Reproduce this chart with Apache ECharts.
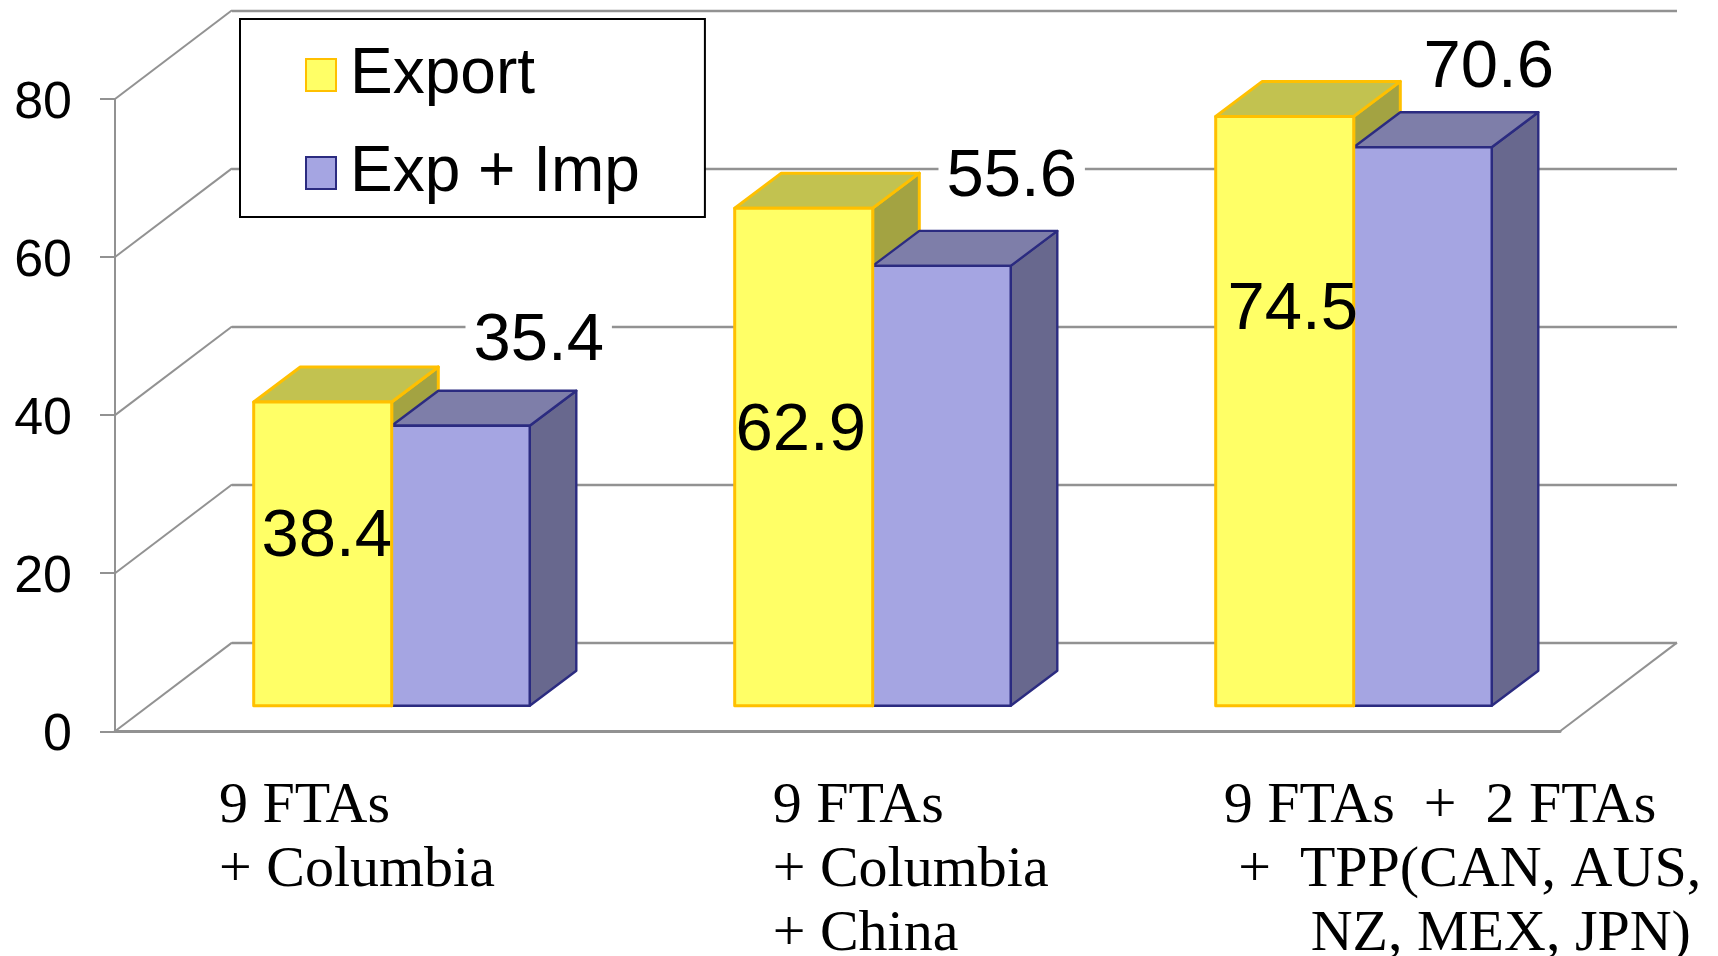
<!DOCTYPE html>
<html>
<head>
<meta charset="utf-8">
<style>html,body{margin:0;padding:0;background:#fff}#chart{width:1718px;height:956px}</style>
<script src="https://cdn.jsdelivr.net/npm/echarts@6/dist/echarts.min.js"></script>
</head>
<body>
<div id="chart"></div>
<script>
var categories = [
  '9 FTAs\n+ Columbia',
  '9 FTAs\n+ Columbia\n+ China',
  '9 FTAs  +  2 FTAs\n +  TPP(CAN, AUS,\n      NZ, MEX, JPN)'
];
var exportValues = [38.4, 62.9, 74.5];
var expImpValues = [35.4, 55.6, 70.6];
var yTicks = [0, 20, 40, 60, 80];

// label nudges from each bar's top-centre, in pixels (hand-placed in the reference)
var exportLabelNudge = [[4, 136], [-3, 223], [8, 194]];
var expImpLabelNudge = [[78, -84], [70, -88], [66, -79]];
var categoryLabelShift = [-172.7, -100, -130];

var BAR_RATIO = 138 / 481, BAR_DX = 46.6, BAR_DY = 35, WALL_DX = 117, WALL_DY = 88.7;
var GREY = '#929292';
var YEL = {front: '#FFFF66', top: '#C2C250', side: '#A3A342', line: '#FFC000', lw: 3};
var BLU = {front: '#A5A5E2', top: '#7E7EA9', side: '#68688E', line: '#2B2B80', lw: 2.4};

function barRender(pos, c, showBack, showFront) {
  return function (params, api) {
    var i = api.value(0), v = api.value(1);
    var b = api.coord([i, 0]), t = api.coord([i, v]);
    var w = api.size([1, 0])[0] * BAR_RATIO;
    var x0 = b[0] + pos * w, x1 = x0 + w, y0 = b[1], y1 = t[1];
    var s = function (fill) { return {fill: fill, stroke: c.line, lineWidth: c.lw, lineJoin: 'round'}; };
    var kids = [];
    if (showBack) {
      kids.push({type: 'polygon', shape: {points: [[x1, y1], [x1 + BAR_DX, y1 - BAR_DY], [x1 + BAR_DX, y0 - BAR_DY], [x1, y0]]}, style: s(c.side)});
      kids.push({type: 'polygon', shape: {points: [[x0, y1], [x0 + BAR_DX, y1 - BAR_DY], [x1 + BAR_DX, y1 - BAR_DY], [x1, y1]]}, style: s(c.top)});
    }
    if (showFront) {
      kids.push({type: 'rect', shape: {x: x0, y: y1, width: w, height: y0 - y1}, style: s(c.front)});
    }
    return {type: 'group', children: kids};
  };
}
function labelRender(pos, nudge, bg) {
  return function (params, api) {
    var i = api.value(0), v = api.value(1);
    var t = api.coord([i, v]);
    var w = api.size([1, 0])[0] * BAR_RATIO;
    var style = {
      text: v.toFixed(1),
      x: t[0] + (pos + 0.5) * w + nudge[i][0],
      y: t[1] + nudge[i][1],
      font: '67px "Liberation Sans"',
      fill: '#000',
      textAlign: 'center',
      textVerticalAlign: 'middle'
    };
    if (bg) { style.backgroundColor = '#fff'; style.padding = [0, 8]; }
    return {type: 'text', style: style};
  };
}
function pairs(a) { return a.map(function (v, i) { return [i, v]; }); }

var option = {
  animation: false,
  backgroundColor: '#fff',
  grid: [
    {left: 151.2, top: 72.9, width: 1443, height: 632.8, outerBoundsMode: 'none'},
    {left: 115, top: 99, width: 1445, height: 632.3, outerBoundsMode: 'none'},
    {left: 232, top: 10.5, width: 1445, height: 632.6, outerBoundsMode: 'none'}
  ],
  legend: {
    show: true,
    data: ['Export', 'Exp + Imp'],
    orient: 'vertical',
    left: 240,
    top: 19,
    padding: [24, 65, 12, 65],
    itemGap: 34,
    itemWidth: 30,
    itemHeight: 32,
    icon: 'rect',
    backgroundColor: '#fff',
    borderColor: '#000',
    borderWidth: 2,
    selectedMode: false,
    textStyle: {fontFamily: 'Liberation Sans', fontSize: 64, color: '#000', padding: [0, 0, 0, 9]},
    z: 6
  },
  xAxis: [
    {
      gridIndex: 0, type: 'category', data: categories.map(function (c, i) {
        return {value: c, textStyle: {align: 'left', verticalAlign: 'top', padding: [0, 0, 0, categoryLabelShift[i]]}};
      }),
      axisLine: {show: false}, axisTick: {show: false}, splitLine: {show: false},
      axisLabel: {
        interval: 0, hideOverlap: false, margin: 69,
        fontFamily: 'Liberation Serif', fontSize: 58, lineHeight: 64, color: '#000'
      }
    },
    {gridIndex: 1, type: 'value', min: 0, max: 1, axisLine: {show: true, onZero: false, lineStyle: {color: GREY, width: 3}}, axisTick: {show: false}, axisLabel: {show: false}, splitLine: {show: false}},
    {gridIndex: 2, type: 'value', min: 0, max: 1, show: false}
  ],
  yAxis: [
    {gridIndex: 0, type: 'value', min: 0, max: 80, interval: 20, show: false},
    {
      gridIndex: 1, type: 'value', min: 0, max: 80, interval: 20,
      axisLine: {show: true, lineStyle: {color: GREY, width: 2}},
      axisTick: {show: true, length: 15, lineStyle: {color: GREY, width: 2}},
      axisLabel: {
        margin: 43, formatter: '{v|{value}}',
        rich: {v: {fontFamily: 'Liberation Sans', fontSize: 52, color: '#000', padding: [9, 0, 0, 0]}}
      },
      splitLine: {show: false}
    },
    {
      gridIndex: 2, type: 'value', min: 0, max: 80, interval: 20,
      axisLine: {show: false}, axisTick: {show: false}, axisLabel: {show: false},
      splitLine: {show: true, lineStyle: {color: GREY, width: 2.4}}
    }
  ],
  series: [
    {
      type: 'custom', name: 'walls', xAxisIndex: 1, yAxisIndex: 1, z: 1, silent: true,
      data: yTicks.map(function (t) { return [0, t]; }),
      encode: {x: 0, y: 1},
      renderItem: function (params, api) {
        var p = api.coord([0, api.value(1)]);
        return {type: 'line', shape: {x1: p[0], y1: p[1], x2: p[0] + WALL_DX, y2: p[1] - WALL_DY}, style: {stroke: GREY, lineWidth: 2}};
      }
    },
    {
      type: 'custom', name: 'floor', xAxisIndex: 1, yAxisIndex: 1, z: 1, silent: true,
      data: [[1, 0]], encode: {x: 0, y: 1},
      renderItem: function (params, api) {
        var p = api.coord([1, 0]);
        return {type: 'line', shape: {x1: p[0], y1: p[1], x2: p[0] + WALL_DX, y2: p[1] - WALL_DY}, style: {stroke: GREY, lineWidth: 2}};
      }
    },
    {
      type: 'custom', name: 'Export', xAxisIndex: 0, yAxisIndex: 0, z: 3,
      itemStyle: {color: YEL.front, borderColor: YEL.line, borderWidth: 3},
      data: pairs(exportValues), encode: {x: 0, y: 1}, renderItem: barRender(-1, YEL, true, false)
    },
    {
      type: 'custom', name: 'Exp + Imp', xAxisIndex: 0, yAxisIndex: 0, z: 3,
      itemStyle: {color: BLU.front, borderColor: BLU.line, borderWidth: 3},
      data: pairs(expImpValues), encode: {x: 0, y: 1}, renderItem: barRender(0, BLU, true, true)
    },
    {
      type: 'custom', name: 'Export front', xAxisIndex: 0, yAxisIndex: 0, z: 4,
      data: pairs(exportValues), encode: {x: 0, y: 1}, renderItem: barRender(-1, YEL, false, true)
    },
    {
      type: 'custom', name: 'Export labels', xAxisIndex: 0, yAxisIndex: 0, z: 5,
      data: pairs(exportValues), encode: {x: 0, y: 1}, renderItem: labelRender(-1, exportLabelNudge, false)
    },
    {
      type: 'custom', name: 'Exp + Imp labels', xAxisIndex: 0, yAxisIndex: 0, z: 5,
      data: pairs(expImpValues), encode: {x: 0, y: 1}, renderItem: labelRender(0, expImpLabelNudge, true)
    }
  ]
};
echarts.init(document.getElementById('chart')).setOption(option);
</script>
</body>
</html>
